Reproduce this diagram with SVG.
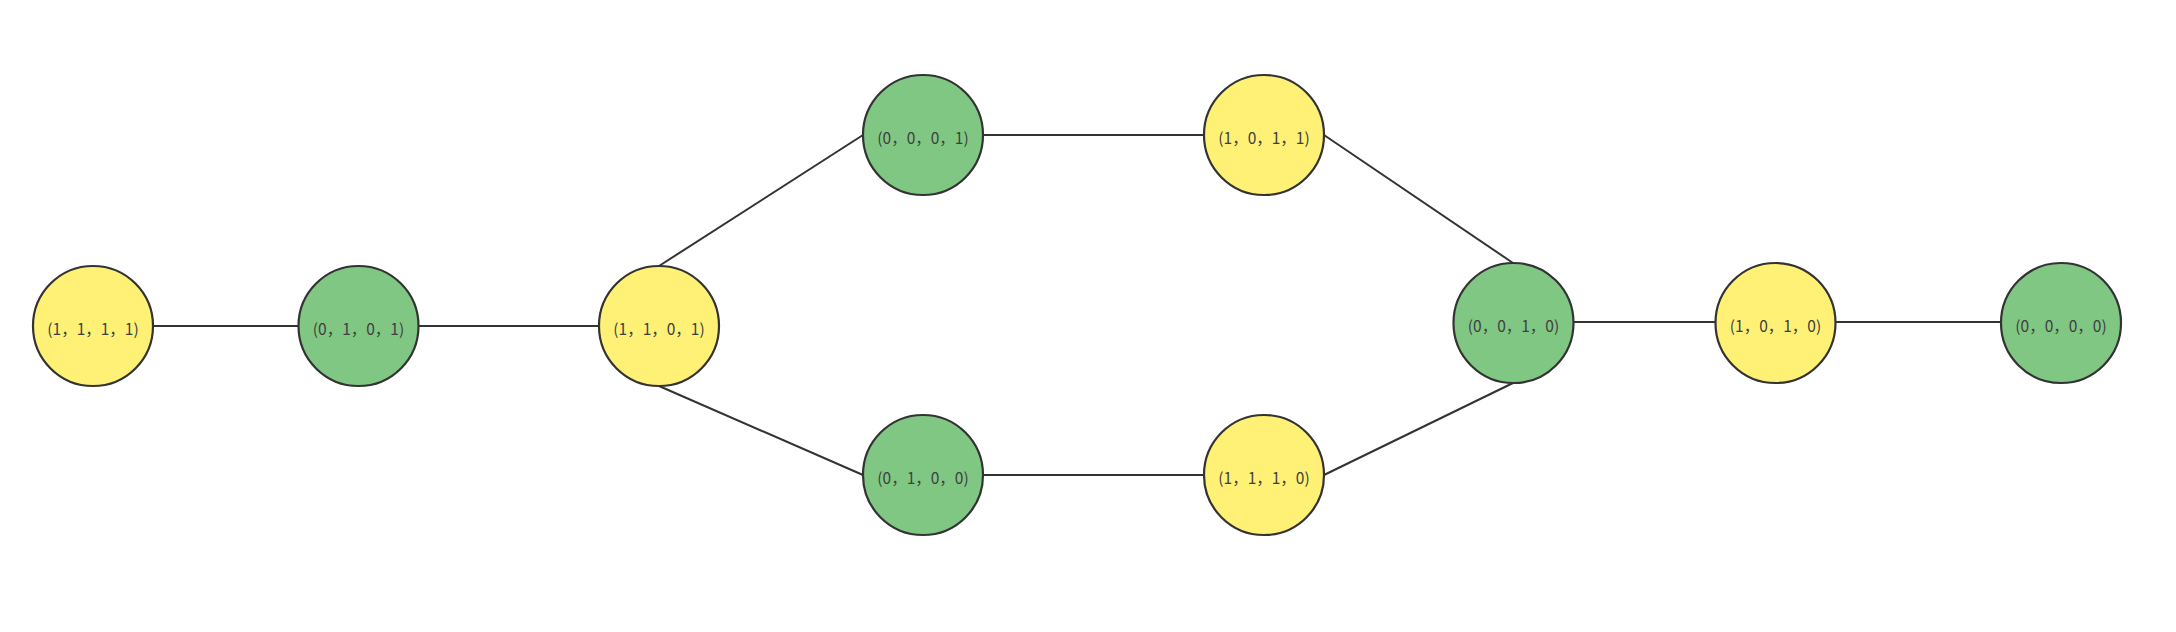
<svg xmlns="http://www.w3.org/2000/svg" width="2176" height="632" viewBox="0 0 2176 632">
<style>
.bg{fill:#ffffff}
.e{stroke:#333333;stroke-width:2;fill:none}
.n circle{stroke:#333333;stroke-width:2.2}
.y circle{fill:#fff176}
.g circle{fill:#81c784}
.n text{font-family:"Noto Sans CJK SC","Noto Sans",sans-serif;font-size:15.5px;fill:#404040;text-anchor:middle;dominant-baseline:central}
</style>
<rect class="bg" x="0" y="0" width="2176" height="632"/>
<g id="connectors">
<line class="e" x1="153" y1="326" x2="299" y2="326"/>
<line class="e" x1="418" y1="326" x2="600" y2="326"/>
<line class="e" x1="659" y1="266" x2="863" y2="135"/>
<line class="e" x1="659" y1="386" x2="863" y2="475"/>
<line class="e" x1="983" y1="135" x2="1204" y2="135"/>
<line class="e" x1="983" y1="475" x2="1204" y2="475"/>
<line class="e" x1="1324" y1="135" x2="1513" y2="263"/>
<line class="e" x1="1324" y1="475" x2="1513" y2="383"/>
<line class="e" x1="1573" y1="322" x2="1716" y2="322"/>
<line class="e" x1="1835" y1="322" x2="2002" y2="322"/>
</g>
<g id="n1111" class="n y"><circle cx="93" cy="326" r="60"/><text x="93" y="328">(1，1，1，1)</text></g>
<g id="n0101" class="n g"><circle cx="358.5" cy="326" r="60"/><text x="358.5" y="328">(0，1，0，1)</text></g>
<g id="n1101" class="n y"><circle cx="659" cy="326" r="60"/><text x="659" y="328">(1，1，0，1)</text></g>
<g id="n0001" class="n g"><circle cx="923" cy="135" r="60"/><text x="923" y="137">(0，0，0，1)</text></g>
<g id="n1011" class="n y"><circle cx="1264" cy="135" r="60"/><text x="1264" y="137">(1，0，1，1)</text></g>
<g id="n0100" class="n g"><circle cx="923" cy="475" r="60"/><text x="923" y="477">(0，1，0，0)</text></g>
<g id="n1110" class="n y"><circle cx="1264" cy="475" r="60"/><text x="1264" y="477">(1，1，1，0)</text></g>
<g id="n0010" class="n g"><circle cx="1513.5" cy="323" r="60"/><text x="1513.5" y="325">(0，0，1，0)</text></g>
<g id="n1010" class="n y"><circle cx="1775.5" cy="323" r="60"/><text x="1775.5" y="325">(1，0，1，0)</text></g>
<g id="n0000" class="n g"><circle cx="2061" cy="323" r="60"/><text x="2061" y="325">(0，0，0，0)</text></g>
</svg>
